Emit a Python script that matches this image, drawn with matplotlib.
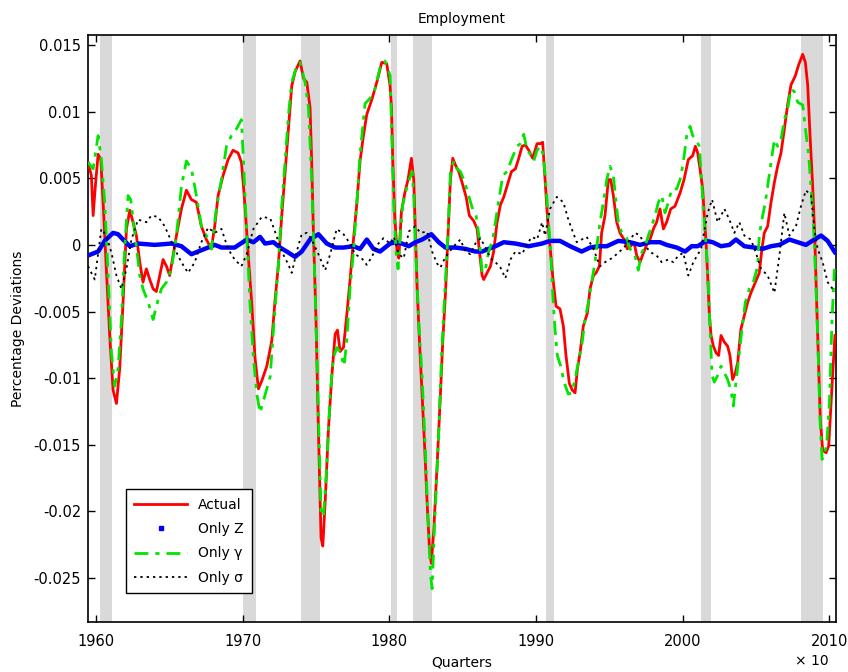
import matplotlib
matplotlib.use('Agg')
import matplotlib.pyplot as plt
from matplotlib.lines import Line2D

# recession bands (years)
rec_start = [1960.25, 1970.0, 1974.0, 1980.1, 1981.6, 1990.7, 2001.25, 2008.05]
rec_end = [1961.1, 1970.9, 1975.25, 1980.5, 1982.9, 1991.25, 2001.9, 2009.55]

# Actual
actual_yr = [1959.45, 1959.68, 1959.80, 1959.95, 1960.14, 1960.32, 1960.48, 1960.70, 1960.93, 1961.16,
             1961.39, 1961.61, 1961.84, 1962.07, 1962.30, 1962.52, 1962.75, 1962.98, 1963.20, 1963.43,
             1963.66, 1963.89, 1964.11, 1964.34, 1964.57, 1964.80, 1965.02, 1965.25, 1965.48, 1965.82,
             1966.16, 1966.50, 1966.84, 1967.18, 1967.52, 1967.86, 1968.09, 1968.32, 1968.66, 1969.00,
             1969.34, 1969.68, 1969.91, 1970.05, 1970.16, 1970.39, 1970.62, 1970.84, 1971.07, 1971.30,
             1971.64, 1971.98, 1972.20, 1972.43, 1972.66, 1972.89, 1973.12, 1973.34, 1973.57, 1973.91,
             1974.14, 1974.37, 1974.59, 1974.70, 1974.82, 1975.00, 1975.16, 1975.34, 1975.46, 1975.62,
             1975.84, 1976.07, 1976.30, 1976.46, 1976.64, 1976.87, 1977.09, 1977.32, 1977.55, 1977.77,
             1978.00, 1978.23, 1978.46, 1978.80, 1979.14, 1979.48, 1979.82, 1980.05, 1980.14, 1980.23,
             1980.36, 1980.52, 1980.64, 1980.82, 1981.05, 1981.27, 1981.50, 1981.66, 1981.77, 1981.89,
             1982.05, 1982.23, 1982.41, 1982.57, 1982.73, 1982.86, 1983.02, 1983.25, 1983.48, 1983.64,
             1983.82, 1984.00, 1984.16, 1984.32, 1984.50, 1984.73, 1984.95, 1985.23, 1985.45, 1985.75,
             1985.98, 1986.14, 1986.32, 1986.43, 1986.66, 1986.89, 1987.11, 1987.34, 1987.57, 1987.80,
             1988.02, 1988.32, 1988.59, 1988.82, 1989.05, 1989.27, 1989.50, 1989.77, 1990.07, 1990.30,
             1990.45, 1990.61, 1990.77, 1990.95, 1991.13, 1991.36, 1991.63, 1991.86, 1992.04, 1992.27,
             1992.47, 1992.66, 1992.82, 1993.00, 1993.22, 1993.50, 1993.68, 1993.91, 1994.09, 1994.32,
             1994.47, 1994.70, 1994.93, 1995.09, 1995.27, 1995.50, 1995.72, 1996.00, 1996.22, 1996.45,
             1996.68, 1996.86, 1997.09, 1997.32, 1997.54, 1997.77, 1998.00, 1998.22, 1998.45, 1998.68,
             1998.90, 1999.18, 1999.47, 1999.82, 2000.09, 2000.38, 2000.68, 2000.86, 2001.02, 2001.18,
             2001.36, 2001.47, 2001.59, 2001.70, 2001.81, 2001.93, 2002.09, 2002.27, 2002.45, 2002.61,
             2002.84, 2003.06, 2003.22, 2003.40, 2003.59, 2003.75, 2003.97, 2004.20, 2004.43, 2004.65,
             2004.95, 2005.22, 2005.40, 2005.56, 2005.79, 2006.02, 2006.25, 2006.47, 2006.70, 2006.93,
             2007.15, 2007.38, 2007.68, 2007.90, 2008.18, 2008.36, 2008.52, 2008.68, 2008.86, 2009.00,
             2009.13, 2009.27, 2009.38, 2009.54, 2009.77, 2009.95, 2010.11, 2010.27, 2010.38]
actual = [0.0062, 0.0052, 0.0022, 0.0044, 0.0068, 0.0064, 0.0032, -0.0018, -0.0068, -0.0109,
          -0.0119, -0.0093, -0.0043, 0.0012, 0.0026, 0.0017, 0.0007, -0.0013, -0.0028, -0.0018,
          -0.0026, -0.0033, -0.0035, -0.0023, -0.0011, -0.0016, -0.0023, -0.0008, 0.0007, 0.0027,
          0.0041, 0.0034, 0.0032, 0.0014, 0.0004, -0.0003, 0.0014, 0.0037, 0.0052, 0.0064,
          0.0071, 0.0069, 0.0062, 0.0044, 0.0028, -0.0010, -0.0045, -0.0085, -0.0108, -0.0102,
          -0.0091, -0.0072, -0.0042, -0.0015, 0.0022, 0.0055, 0.0087, 0.0119, 0.0130, 0.0138,
          0.0125, 0.0122, 0.0103, 0.0063, 0.0009, -0.0058, -0.0139, -0.0220, -0.0226, -0.0193,
          -0.0139, -0.0099, -0.0067, -0.0064, -0.0080, -0.0077, -0.0053, -0.0026, 0.0004, 0.0030,
          0.0063, 0.0082, 0.0098, 0.0109, 0.0122, 0.0137, 0.0136, 0.0119, 0.0103, 0.0063,
          0.0022, -0.0005, -0.0010, 0.0025, 0.0039, 0.0049, 0.0065, 0.0049, 0.0009, -0.0032,
          -0.0072, -0.0112, -0.0153, -0.0193, -0.0228, -0.0239, -0.0215, -0.0166, -0.0112, -0.0072,
          -0.0037, 0.0009, 0.0049, 0.0065, 0.0060, 0.0055, 0.0047, 0.0036, 0.0022, 0.0018,
          0.0012, -0.0005, -0.0023, -0.0026, -0.0021, -0.0016, -0.0005, 0.0017, 0.0030, 0.0036,
          0.0044, 0.0055, 0.0057, 0.0065, 0.0074, 0.0075, 0.0071, 0.0065, 0.0076, 0.0076,
          0.0077, 0.0049, 0.0022, -0.0001, -0.0023, -0.0046, -0.0048, -0.0061, -0.0083, -0.0104,
          -0.0109, -0.0111, -0.0093, -0.0081, -0.0061, -0.0051, -0.0033, -0.0023, -0.0021, -0.0016,
          0.0009, 0.0022, 0.0049, 0.0049, 0.0037, 0.0017, 0.0009, 0.0004, -0.0003, -0.0001,
          0.0002, -0.0008, -0.0013, -0.0006, 0.0000, 0.0004, 0.0012, 0.0017, 0.0027, 0.0012,
          0.0017, 0.0027, 0.0029, 0.0039, 0.0049, 0.0064, 0.0067, 0.0074, 0.0069, 0.0057,
          0.0042, 0.0022, 0.0002, -0.0023, -0.0051, -0.0068, -0.0076, -0.0081, -0.0083, -0.0068,
          -0.0073, -0.0076, -0.0083, -0.0101, -0.0096, -0.0088, -0.0063, -0.0053, -0.0043, -0.0036,
          -0.0028, -0.0021, -0.0003, 0.0009, 0.0014, 0.0032, 0.0047, 0.0059, 0.0069, 0.0087,
          0.0105, 0.0120, 0.0127, 0.0135, 0.0143, 0.0137, 0.0120, 0.0082, 0.0044, 0.0007,
          -0.0043, -0.0093, -0.0131, -0.0154, -0.0156, -0.0151, -0.0119, -0.0088, -0.0068]

# Only Z
onlyz_yr = [1959.45, 1960.14, 1960.59, 1961.16, 1961.50, 1961.84, 1962.30, 1962.86, 1964.00, 1965.14,
            1965.82, 1966.50, 1966.95, 1967.64, 1968.09, 1968.55, 1969.45, 1970.14, 1970.27, 1970.73,
            1971.18, 1971.52, 1972.09, 1972.55, 1973.00, 1973.57, 1974.02, 1974.59, 1975.16, 1975.73,
            1976.30, 1976.87, 1977.55, 1978.00, 1978.46, 1978.91, 1979.36, 1980.05, 1980.41, 1980.86,
            1981.32, 1981.77, 1982.23, 1982.86, 1983.36, 1983.82, 1984.50, 1985.18, 1985.86, 1986.32,
            1986.77, 1987.23, 1987.80, 1988.59, 1989.50, 1990.41, 1990.95, 1991.63, 1992.32, 1993.11,
            1993.68, 1994.25, 1994.82, 1995.61, 1996.40, 1997.09, 1997.77, 1998.45, 1998.90, 1999.59,
            2000.16, 2000.61, 2001.02, 2001.59, 2002.04, 2002.61, 2003.18, 2003.63, 2004.20, 2004.88,
            2005.45, 2006.02, 2006.59, 2007.27, 2007.84, 2008.40, 2008.97, 2009.43, 2009.88, 2010.40]
onlyz = [-0.0008, -0.0005, 0.0003, 0.0009, 0.0008, 0.0004, -0.0001, 0.0001, 0.0000, 0.0001,
         -0.0001, -0.0007, -0.0005, -0.0002, 0.0000, -0.0002, -0.0002, 0.0003, 0.0004, 0.0002,
         0.0006, 0.0001, 0.0002, -0.0002, -0.0005, -0.0009, -0.0005, 0.0004, 0.0008, 0.0001,
         -0.0002, -0.0002, -0.0001, -0.0003, 0.0004, -0.0003, -0.0005, 0.0001, 0.0002, 0.0001,
         -0.0001, 0.0002, 0.0004, 0.0008, 0.0002, -0.0002, -0.0002, -0.0003, -0.0005, -0.0005,
         -0.0003, -0.0001, 0.0002, 0.0001, -0.0001, 0.0001, 0.0003, 0.0003, -0.0001, -0.0005,
         -0.0002, -0.0001, -0.0001, 0.0003, 0.0002, 0.0000, 0.0002, 0.0002, 0.0000, -0.0002,
         -0.0005, -0.0001, -0.0001, 0.0003, 0.0002, -0.0001, 0.0000, 0.0004, -0.0001, -0.0002,
         -0.0003, -0.0001, 0.0000, 0.0004, 0.0002, 0.0000, 0.0004, 0.0007, 0.0003, -0.0006]

# Only gamma
gamma_yr = [1959.45, 1959.80, 1960.14, 1960.36, 1960.59, 1960.82, 1961.05, 1961.27, 1961.50, 1961.73,
            1961.95, 1962.18, 1962.36, 1962.64, 1962.98, 1963.20, 1963.55, 1963.89, 1964.11, 1964.45,
            1964.80, 1965.14, 1965.48, 1965.82, 1966.16, 1966.50, 1966.84, 1967.18, 1967.52, 1967.86,
            1968.20, 1968.55, 1968.89, 1969.23, 1969.57, 1969.91, 1970.05, 1970.27, 1970.50, 1970.73,
            1970.96, 1971.18, 1971.46, 1971.87, 1972.09, 1972.43, 1972.66, 1972.89, 1973.12, 1973.34,
            1973.68, 1973.91, 1974.25, 1974.48, 1974.70, 1974.93, 1975.16, 1975.34, 1975.50, 1975.73,
            1975.96, 1976.18, 1976.41, 1976.64, 1976.91, 1977.09, 1977.32, 1977.55, 1977.77, 1978.00,
            1978.34, 1978.68, 1979.02, 1979.36, 1979.70, 1980.05, 1980.14, 1980.30, 1980.45, 1980.59,
            1980.75, 1980.91, 1981.14, 1981.36, 1981.55, 1981.66, 1981.77, 1982.00, 1982.23, 1982.45,
            1982.64, 1982.80, 1982.91, 1983.09, 1983.32, 1983.55, 1983.77, 1984.00, 1984.16, 1984.39,
            1984.61, 1984.84, 1985.07, 1985.30, 1985.64, 1985.91, 1986.14, 1986.32, 1986.55, 1986.77,
            1987.05, 1987.23, 1987.45, 1987.73, 1988.02, 1988.36, 1988.70, 1988.93, 1989.16, 1989.39,
            1989.61, 1989.84, 1990.07, 1990.30, 1990.50, 1990.68, 1990.84, 1991.00, 1991.13, 1991.29,
            1991.45, 1991.68, 1991.91, 1992.20, 1992.43, 1992.66, 1992.88, 1993.11, 1993.34, 1993.57,
            1993.79, 1994.02, 1994.18, 1994.36, 1994.59, 1994.82, 1995.04, 1995.27, 1995.45, 1995.61,
            1995.84, 1996.13, 1996.40, 1996.70, 1996.97, 1997.20, 1997.43, 1997.66, 1997.88, 1998.11,
            1998.34, 1998.57, 1998.79, 1999.02, 1999.25, 1999.59, 1999.82, 2000.04, 2000.27, 2000.50,
            2000.68, 2000.90, 2001.13, 2001.31, 2001.47, 2001.63, 2001.77, 2001.88, 2002.00, 2002.15,
            2002.38, 2002.61, 2002.84, 2003.06, 2003.29, 2003.45, 2003.63, 2003.81, 2004.04, 2004.27,
            2004.54, 2004.81, 2005.11, 2005.22, 2005.40, 2005.63, 2005.79, 2006.02, 2006.25, 2006.47,
            2006.70, 2006.93, 2007.15, 2007.38, 2007.61, 2007.84, 2008.18, 2008.40, 2008.59, 2008.75,
            2008.90, 2009.04, 2009.20, 2009.36, 2009.50, 2009.65, 2009.81, 2010.00, 2010.18, 2010.34]
gamma = [0.0062, 0.0057, 0.0082, 0.0064, 0.0032, -0.0023, -0.0081, -0.0106, -0.0093, -0.0056,
         -0.0003, 0.0037, 0.0034, 0.0009, -0.0023, -0.0033, -0.0043, -0.0056, -0.0046, -0.0033,
         -0.0028, -0.0018, 0.0007, 0.0044, 0.0063, 0.0057, 0.0037, 0.0014, 0.0007, -0.0003,
         0.0027, 0.0049, 0.0074, 0.0082, 0.0087, 0.0094, 0.0063, 0.0009, -0.0045, -0.0085,
         -0.0112, -0.0126, -0.0115, -0.0099, -0.0064, -0.0015, 0.0030, 0.0063, 0.0098, 0.0122,
         0.0134, 0.0137, 0.0122, 0.0103, 0.0049, -0.0032, -0.0126, -0.0201, -0.0204, -0.0166,
         -0.0112, -0.0085, -0.0077, -0.0080, -0.0091, -0.0072, -0.0032, -0.0005, 0.0030, 0.0068,
         0.0106, 0.0110, 0.0117, 0.0133, 0.0138, 0.0127, 0.0090, 0.0028, -0.0005, -0.0018,
         0.0009, 0.0030, 0.0041, 0.0049, 0.0055, 0.0036, 0.0001, -0.0058, -0.0099, -0.0153,
         -0.0207, -0.0247, -0.0258, -0.0207, -0.0153, -0.0085, -0.0037, 0.0009, 0.0055, 0.0063,
         0.0057, 0.0055, 0.0049, 0.0041, 0.0028, 0.0022, 0.0004, -0.0021, -0.0018, -0.0005,
         0.0004, 0.0017, 0.0033, 0.0052, 0.0055, 0.0065, 0.0074, 0.0076, 0.0083, 0.0071,
         0.0068, 0.0063, 0.0071, 0.0074, 0.0067, 0.0044, 0.0019, -0.0006, -0.0036, -0.0063,
         -0.0083, -0.0091, -0.0103, -0.0112, -0.0111, -0.0101, -0.0088, -0.0076, -0.0056, -0.0043,
         -0.0028, -0.0013, 0.0002, 0.0017, 0.0032, 0.0049, 0.0059, 0.0052, 0.0032, 0.0017,
         0.0009, 0.0007, -0.0003, -0.0006, -0.0019, -0.0006, -0.0001, 0.0007, 0.0014, 0.0022,
         0.0032, 0.0037, 0.0024, 0.0032, 0.0042, 0.0042, 0.0049, 0.0062, 0.0082, 0.0089,
         0.0082, 0.0079, 0.0074, 0.0044, 0.0017, -0.0006, -0.0038, -0.0068, -0.0098, -0.0103,
         -0.0098, -0.0091, -0.0096, -0.0101, -0.0109, -0.0121, -0.0103, -0.0086, -0.0063, -0.0043,
         -0.0033, -0.0028, -0.0016, 0.0007, 0.0019, 0.0032, 0.0044, 0.0062, 0.0079, 0.0074,
         0.0079, 0.0094, 0.0102, 0.0117, 0.0115, 0.0107, 0.0105, 0.0084, 0.0067, 0.0042,
         0.0017, -0.0018, -0.0068, -0.0131, -0.0161, -0.0156, -0.0151, -0.0119, -0.0056, -0.0018]

# Only sigma
sigma_yr = [1959.45, 1959.91, 1960.36, 1960.70, 1961.05, 1961.39, 1961.73, 1962.07, 1962.41, 1962.86,
            1963.43, 1963.77, 1964.23, 1964.68, 1965.36, 1965.82, 1966.27, 1966.73, 1967.18, 1967.64,
            1968.09, 1968.55, 1969.00, 1969.45, 1969.91, 1970.27, 1970.73, 1971.30, 1971.87, 1972.20,
            1972.66, 1973.12, 1973.34, 1973.68, 1974.02, 1974.37, 1974.70, 1975.16, 1975.62, 1975.96,
            1976.41, 1976.87, 1977.32, 1977.66, 1978.11, 1978.46, 1978.80, 1979.25, 1979.59, 1980.05,
            1980.30, 1980.64, 1980.98, 1981.32, 1981.77, 1982.11, 1982.57, 1982.91, 1983.25, 1983.48,
            1983.82, 1984.39, 1984.84, 1985.18, 1985.52, 1985.86, 1986.20, 1986.55, 1986.89, 1987.23,
            1987.57, 1987.91, 1988.25, 1988.59, 1989.05, 1989.39, 1989.73, 1990.07, 1990.41, 1990.61,
            1990.95, 1991.41, 1991.86, 1992.20, 1992.43, 1992.77, 1993.11, 1993.45, 1993.91, 1994.36,
            1994.70, 1995.16, 1995.61, 1996.07, 1996.40, 1996.75, 1997.09, 1997.43, 1997.88, 1998.22,
            1998.57, 1999.02, 1999.36, 1999.70, 2000.04, 2000.38, 2000.72, 2001.25, 2001.70, 2002.00,
            2002.38, 2002.84, 2003.18, 2003.52, 2003.86, 2004.20, 2004.65, 2004.99, 2005.34, 2005.79,
            2006.25, 2006.59, 2006.93, 2007.27, 2007.72, 2008.06, 2008.40, 2008.75, 2008.97, 2009.20,
            2009.54, 2009.88, 2010.22]
sigma = [-0.0016, -0.0026, 0.0012, 0.0007, -0.0006, -0.0023, -0.0033, -0.0018, 0.0004, 0.0019,
         0.0017, 0.0022, 0.0021, 0.0014, -0.0003, -0.0013, -0.0021, -0.0013, 0.0002, 0.0013,
         0.0009, 0.0012, -0.0003, -0.0011, -0.0016, -0.0007, 0.0012, 0.0021, 0.0020, 0.0010,
         -0.0005, -0.0015, -0.0021, -0.0005, 0.0008, 0.0009, 0.0004, -0.0007, -0.0019, -0.0007,
         0.0012, 0.0008, 0.0001, -0.0007, -0.0010, -0.0015, -0.0009, 0.0001, 0.0005, 0.0001,
         0.0006, -0.0007, -0.0010, 0.0010, 0.0014, 0.0009, 0.0010, -0.0005, -0.0014, -0.0017,
         -0.0009, -0.0001, 0.0004, -0.0005, -0.0007, 0.0001, 0.0005, -0.0002, -0.0010, -0.0013,
         -0.0017, -0.0025, -0.0011, -0.0005, -0.0007, 0.0001, 0.0006, 0.0004, 0.0017, 0.0007,
         0.0027, 0.0036, 0.0032, 0.0019, 0.0012, 0.0002, 0.0004, 0.0006, -0.0003, -0.0016,
         -0.0013, -0.0010, -0.0006, -0.0001, 0.0004, 0.0009, 0.0007, -0.0001, -0.0006, -0.0008,
         -0.0013, -0.0011, -0.0013, -0.0008, -0.0006, -0.0023, -0.0013, -0.0003, 0.0024, 0.0034,
         0.0017, 0.0027, 0.0019, 0.0009, 0.0017, 0.0007, 0.0004, -0.0006, -0.0018, -0.0023,
         -0.0036, -0.0008, 0.0024, 0.0007, 0.0014, 0.0029, 0.0041, 0.0037, 0.0012, -0.0003,
         -0.0013, -0.0028, -0.0033]

x_ticks = [1960, 1970, 1980, 1990, 2000, 2010]
y_ticks = [-0.025, -0.02, -0.015, -0.01, -0.005, 0, 0.005, 0.01, 0.015]
y_tick_labels = ['-0.025', '-0.02', '-0.015', '-0.01', '-0.005', '0', '0.005', '0.01', '0.015']

plt.rcParams['font.family'] = ['DejaVu Sans']

fig = plt.figure(figsize=(8.48, 6.72), dpi=100)
ax = fig.add_axes([88 / 848, 1 - 622 / 672, (836 - 88) / 848, (622 - 35) / 672])

for s, e in zip(rec_start, rec_end):
    ax.axvspan(s, e, color='#d9d9d9', lw=0, zorder=0)

gamma_ls = (0, (5, 2.5, 1.5, 2.5))
sigma_ls = (0, (1.3, 2.2))

ax.plot(actual_yr, actual, color='red', lw=2.0, zorder=3)
ax.plot(onlyz_yr, onlyz, color='blue', lw=3.2, solid_capstyle='round', zorder=3)
ax.plot(gamma_yr, gamma, color='#00e600', lw=2.0, ls=gamma_ls, zorder=4)
ax.plot(sigma_yr, sigma, color='black', lw=1.3, ls=sigma_ls, zorder=4)

ax.set_xlim(1959.45, 2010.45)
ax.set_ylim(-0.0283, 0.01575)
ax.set_xticks(x_ticks)
ax.set_xticklabels([str(t) for t in x_ticks])
ax.set_yticks(y_ticks)
ax.set_yticklabels(y_tick_labels)
ax.tick_params(direction='in', length=5, width=1, top=True, right=True, labelsize=10.5)
ax.tick_params(axis='x', pad=9)
ax.tick_params(axis='y', pad=5)
for sp in ax.spines.values():
    sp.set_linewidth(1.2)

ax.set_title('Employment', fontsize=10, pad=8.5)
ax.set_xlabel('Quarters', fontsize=10, labelpad=4)
ax.set_ylabel('Percentage Deviations', fontsize=10, labelpad=6)
fig.text(812 / 848, 1 - 661 / 672, '× 10', ha='center', va='center', fontsize=10)

handles = [Line2D([], [], color='red', lw=2.0),
           Line2D([], [], color='blue', marker='s', ms=3.5, ls='none'),
           Line2D([], [], color='#00e600', lw=2.0, ls=gamma_ls),
           Line2D([], [], color='black', lw=1.3, ls=sigma_ls)]
labels = ['Actual', 'Only Z', 'Only γ', 'Only σ']
leg = ax.legend(handles, labels, loc='lower left', bbox_to_anchor=(0.051, 0.049),
                fontsize=10, handlelength=3.8, labelspacing=0.75, borderpad=0.6,
                fancybox=False, framealpha=1, edgecolor='black', borderaxespad=0)
leg.get_frame().set_linewidth(1.0)

fig.savefig('out.png', dpi=100)
